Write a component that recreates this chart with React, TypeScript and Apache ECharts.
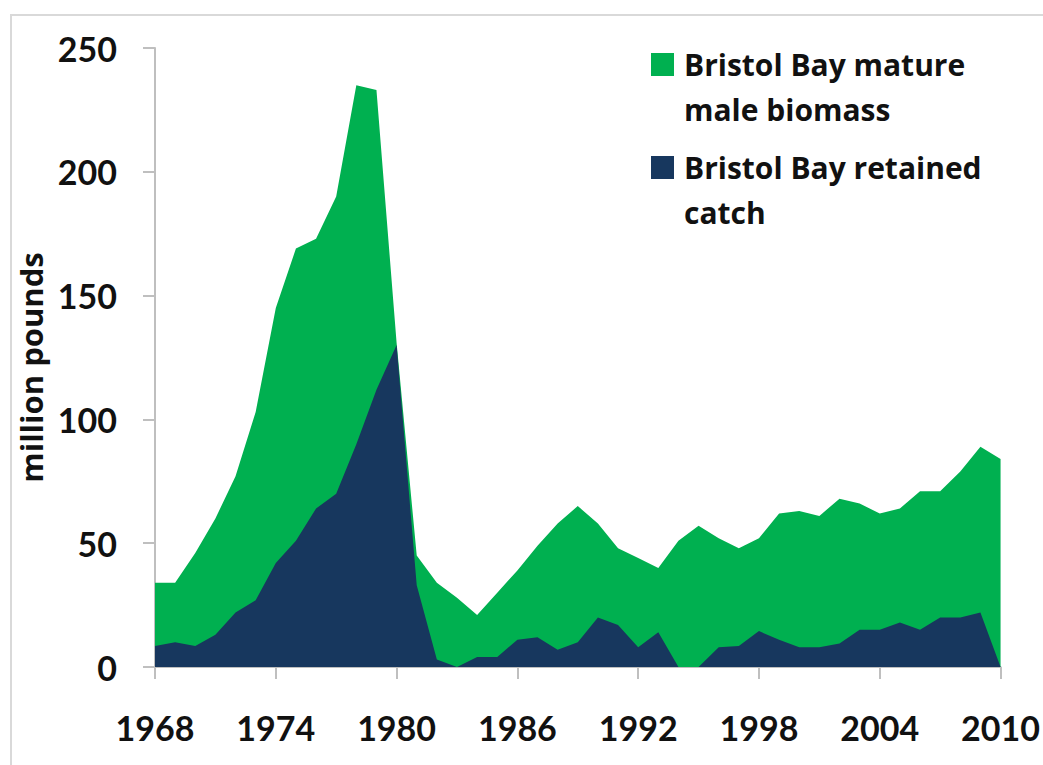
import React, { useEffect, useRef } from "react";
import * as echarts from "echarts";

// Survey years along the x axis
const years = [
  "1968", "1969", "1970", "1971", "1972", "1973", "1974", "1975", "1976", "1977",
  "1978", "1979", "1980", "1981", "1982", "1983", "1984", "1985", "1986", "1987",
  "1988", "1989", "1990", "1991", "1992", "1993", "1994", "1995", "1996", "1997",
  "1998", "1999", "2000", "2001", "2002", "2003", "2004", "2005", "2006", "2007",
  "2008", "2009", "2010",
];

// Mature male biomass, million pounds
const biomass = [
  34, 34, 46, 60, 77, 103, 145, 169, 173, 190,
  235, 233, 131, 45, 34, 28, 21, 30, 39, 49,
  58, 65, 58, 48, 44, 40, 51, 57, 52, 48,
  52, 62, 63, 61, 68, 66, 62, 64, 71, 71,
  79, 89, 84,
];

// Retained catch, million pounds
const retainedCatch = [
  8.5, 10, 8.5, 13, 22, 27, 42, 51, 64, 70,
  90, 112, 130, 33, 3, 0, 4, 4, 11, 12,
  7, 10, 20, 17, 8, 14, 0, 0, 8, 8.5,
  14.5, 11, 8, 8, 9.5, 15, 15, 18, 15, 20,
  20, 22, 0,
];

const seriesNames = ["Bristol Bay mature male biomass", "Bristol Bay retained catch"];
const legendLines = [
  ["Bristol Bay mature", "male biomass"],
  ["Bristol Bay retained", "catch"],
];
const seriesColors = ["#00b050", "#17375e"];
const yAxisTitle = "million pounds";

const TICK_FONT = "Lato, 'Open Sans', sans-serif";
const TEXT_FONT = "'Open Sans', Lato, sans-serif";
const AXIS_GRAY = "#bfbfbf";

export default function App() {
  const ref = useRef<HTMLDivElement>(null);

  useEffect(() => {
    if (!ref.current) return;
    const chart = echarts.init(ref.current, undefined, { renderer: "svg" });

    // Legend drawn as a block of swatches and wrapped labels
    const legendElements: any[] = [];
    const entryOffsets = [0, 103];
    legendLines.forEach((lines, i) => {
      const top = 53 + entryOffsets[i];
      legendElements.push({
        type: "rect",
        left: 651,
        top,
        shape: { width: 23, height: 23 },
        style: { fill: seriesColors[i] },
      });
      lines.forEach((line, j) => {
        legendElements.push({
          type: "text",
          x: 684,
          y: top + 11 + j * 45,
          style: {
            text: line,
            fill: "#111",
            font: `bold 30px ${TEXT_FONT}`,
            textVerticalAlign: "middle",
            textAlign: "left",
          },
        });
      });
    });

    chart.setOption({
      animation: false,
      backgroundColor: "#ffffff",
      grid: { left: 155, right: 39, top: 48, bottom: 98, containLabel: false },
      xAxis: {
        type: "category",
        data: years,
        boundaryGap: false,
        axisLine: { lineStyle: { color: AXIS_GRAY, width: 2 } },
        axisTick: { show: true, interval: 5, length: 12, lineStyle: { color: AXIS_GRAY, width: 2 } },
        axisLabel: {
          interval: 5,
          margin: 43,
          color: "#111",
          fontFamily: TICK_FONT,
          fontWeight: "bold",
          fontSize: 34,
        },
        splitLine: { show: false },
      },
      yAxis: {
        type: "value",
        min: 0,
        max: 250,
        interval: 50,
        name: yAxisTitle,
        nameLocation: "middle",
        nameRotate: 90,
        nameGap: 101,
        nameTextStyle: {
          color: "#111",
          fontFamily: TEXT_FONT,
          fontWeight: "bold",
          fontSize: 31,
          padding: [0, 20, 0, 0],
        },
        axisLine: { show: true, lineStyle: { color: AXIS_GRAY, width: 2 } },
        axisTick: { show: true, length: 12, lineStyle: { color: AXIS_GRAY, width: 2 } },
        axisLabel: {
          margin: 38,
          color: "#111",
          fontFamily: TICK_FONT,
          fontWeight: "bold",
          fontSize: 34,
        },
        splitLine: { show: false },
      },
      series: [
        {
          name: seriesNames[0],
          type: "line",
          data: biomass,
          symbol: "none",
          lineStyle: { width: 0 },
          areaStyle: { color: seriesColors[0], opacity: 1 },
          itemStyle: { color: seriesColors[0] },
          z: 2,
        },
        {
          name: seriesNames[1],
          type: "line",
          data: retainedCatch,
          symbol: "none",
          lineStyle: { width: 0 },
          areaStyle: { color: seriesColors[1], opacity: 1 },
          itemStyle: { color: seriesColors[1] },
          z: 3,
        },
      ],
      graphic: [
        {
          type: "rect",
          shape: { x: 11, y: 15, width: 1100, height: 800 },
          style: { fill: "none", stroke: "#d9d9d9", lineWidth: 2 },
          silent: true,
          z: -1,
        },
        ...legendElements,
      ],
    });

    return () => chart.dispose();
  }, []);

  return (
    <div
      ref={ref}
      style={{ position: "fixed", left: 0, top: 0, width: 1043, height: 765, background: "#fff" }}
    />
  );
}
